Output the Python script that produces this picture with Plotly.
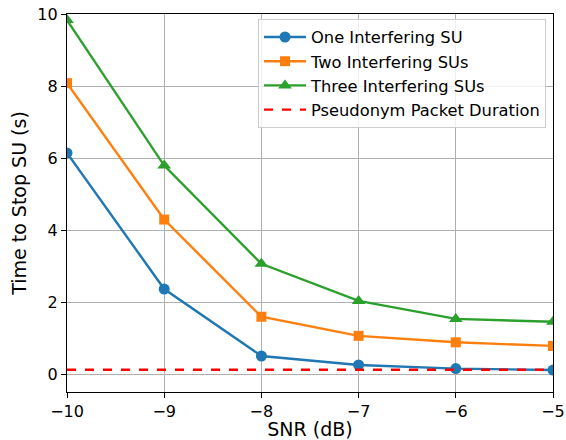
import plotly.graph_objects as go

snr = [-10, -9, -8, -7, -6, -5]
one_su = [6.14, 2.36, 0.50, 0.25, 0.15, 0.11]
two_su = [8.08, 4.29, 1.59, 1.06, 0.88, 0.78]
three_su = [9.83, 5.79, 3.06, 2.03, 1.53, 1.45]
pseudonym = [0.12, 0.12, 0.12, 0.12, 0.12, 0.12]

x_ticks = [-10, -9, -8, -7, -6, -5]
x_ticktext = ["−10", "−9", "−8", "−7", "−6", "−5"]
y_ticks = [0, 2, 4, 6, 8, 10]

FONT = 16

fig = go.Figure()
fig.add_trace(go.Scatter(x=snr, y=one_su, mode="lines+markers", name="One Interfering SU",
                         line=dict(color="#1f77b4", width=2.4), marker=dict(symbol="circle", size=11)))
fig.add_trace(go.Scatter(x=snr, y=two_su, mode="lines+markers", name="Two Interfering SUs",
                         line=dict(color="#ff7f0e", width=2.4), marker=dict(symbol="square", size=10)))
fig.add_trace(go.Scatter(x=snr, y=three_su, mode="lines+markers", name="Three Interfering SUs",
                         line=dict(color="#2ca02c", width=2.4), marker=dict(symbol="triangle-up", size=12)))
fig.add_trace(go.Scatter(x=snr, y=pseudonym, mode="lines", name="Pseudonym Packet Duration",
                         line=dict(color="red", width=2.4, dash="dash")))

fig.update_layout(
    width=566, height=440,
    margin=dict(l=67, r=13, t=14, b=48),
    paper_bgcolor="white", plot_bgcolor="white",
    font=dict(family="DejaVu Sans", size=FONT, color="black"),
    showlegend=True,
    legend=dict(x=0.9856, y=0.987, xanchor="right", yanchor="top",
                bgcolor="rgba(255,255,255,0.8)", bordercolor="#cccccc", borderwidth=1,
                font=dict(size=16.3), itemwidth=42),
)
fig.update_xaxes(range=[-10, -5], tickvals=x_ticks, ticktext=x_ticktext,
                 showgrid=True, gridcolor="#b0b0b0", gridwidth=1.2,
                 showline=True, linecolor="black", linewidth=1.3, mirror=True,
                 ticks="outside", ticklen=5, tickcolor="black", tickwidth=1.2,
                 title=dict(text="SNR (dB)", standoff=12), zeroline=False, automargin=False)
fig.update_yaxes(range=[-0.5, 10], tickvals=y_ticks,
                 showgrid=True, gridcolor="#b0b0b0", gridwidth=1.2,
                 showline=True, linecolor="black", linewidth=1.3, mirror=True,
                 ticks="outside", ticklen=5, tickcolor="black", tickwidth=1.2,
                 title=dict(text="Time to Stop SU (s)", standoff=5), zeroline=False, automargin=False)

fig.write_html("out.html", config={"displayModeBar": False},
               post_script="document.body.style.margin='0';document.body.style.overflow='hidden';")
